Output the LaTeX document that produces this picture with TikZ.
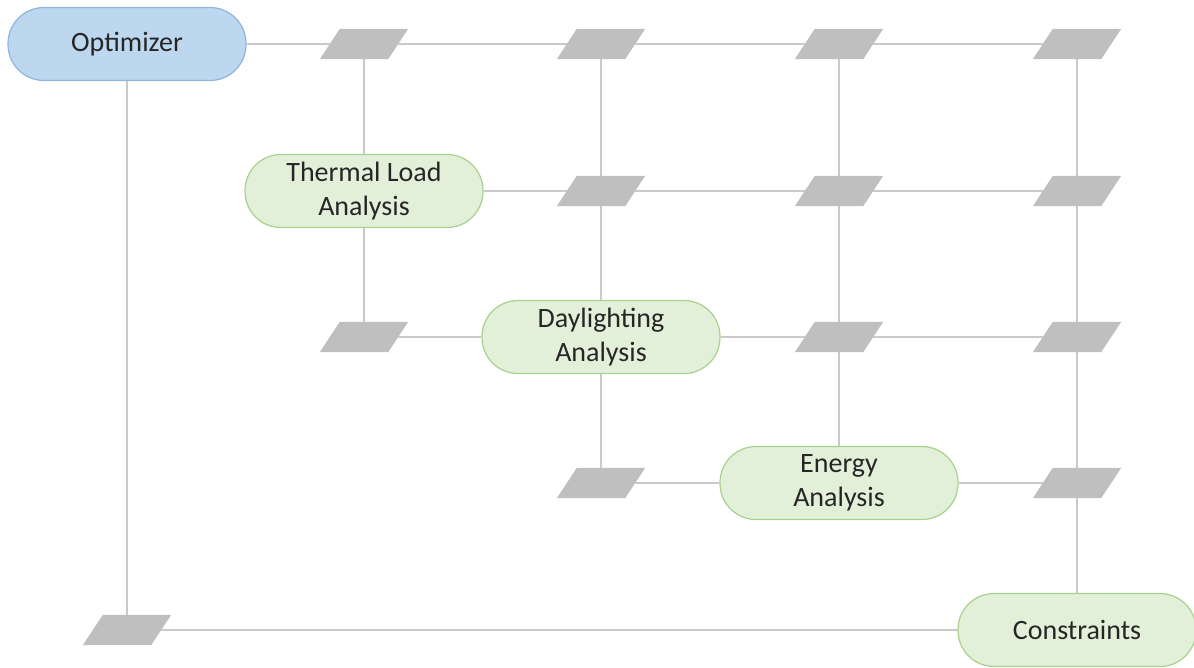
\documentclass[tikz,border=0pt]{standalone}
\usepackage{fontspec}
\setmainfont{Carlito}
\definecolor{wire}{HTML}{C9C9C9}
\definecolor{paraFill}{HTML}{BFBFBF}
\definecolor{blueFill}{HTML}{BDD7EE}
\definecolor{blueLine}{HTML}{8FB4DE}
\definecolor{greenFill}{HTML}{E2F0D9}
\definecolor{greenLine}{HTML}{A9D18E}
\definecolor{ink}{HTML}{262626}
\tikzset{
  stadium/.style={rectangle, rounded corners=36pt, minimum width=238pt,
    minimum height=73pt, line width=1.2pt, align=center, text=ink,
    font=\fontsize{28}{34}\selectfont},
  optbox/.style={stadium, fill=blueFill, draw=blueLine},
  taskbox/.style={stadium, fill=greenFill, draw=greenLine},
  junction/.style={rectangle, minimum width=68pt, minimum height=30pt,
    inner sep=0pt, draw=none},
  wireline/.style={draw=wire, line width=2.2pt}
}
\begin{document}
\begin{tikzpicture}[x=1pt, y=-1pt]
\useasboundingbox (0,0) rectangle (1194,667);

% process boxes
\node[optbox]  (opt) at (127,44)  {Optimizer};
\node[taskbox] (tla) at (364,191) {Thermal Load\\Analysis};
\node[taskbox] (day) at (601,337) {Daylighting\\Analysis};
\node[taskbox] (ene) at (839,483) {Energy\\Analysis};
\node[taskbox] (con) at (1077,630) {Constraints};

% junctions, top row
\node[junction] (t1) at (364,44) {};
\node[junction] (t2) at (601,44) {};
\node[junction] (t3) at (839,44) {};
\node[junction] (t4) at (1077,44) {};
% second row
\node[junction] (r2a) at (601,191) {};
\node[junction] (r2b) at (839,191) {};
\node[junction] (r2c) at (1077,191) {};
% third row
\node[junction] (r3a) at (364,337) {};
\node[junction] (r3b) at (839,337) {};
\node[junction] (r3c) at (1077,337) {};
% fourth row
\node[junction] (r4a) at (601,483) {};
\node[junction] (r4b) at (1077,483) {};
% bottom row
\node[junction] (b1) at (127,630) {};

% slanted junction plates
\foreach \n in {t1,t2,t3,t4,r2a,r2b,r2c,r3a,r3b,r3c,r4a,r4b,b1}
  \fill[paraFill] ([xshift=-10pt]\n.south west) -- ([xshift=-10pt]\n.south east)
    -- ([xshift=10pt]\n.north east) -- ([xshift=10pt]\n.north west) -- cycle;

% horizontal links
\draw[wireline] (opt) -- (t1);
\draw[wireline] (t1) -- (t2);
\draw[wireline] (t2) -- (t3);
\draw[wireline] (t3) -- (t4);
\draw[wireline] (tla) -- (r2a);
\draw[wireline] (r2a) -- (r2b);
\draw[wireline] (r2b) -- (r2c);
\draw[wireline] (r3a) -- (day);
\draw[wireline] (day) -- (r3b);
\draw[wireline] (r3b) -- (r3c);
\draw[wireline] (r4a) -- (ene);
\draw[wireline] (ene) -- (r4b);
\draw[wireline] (b1) -- (con);

% vertical links
\draw[wireline] (opt) -- (b1);
\draw[wireline] (t1) -- (tla);
\draw[wireline] (tla) -- (r3a);
\draw[wireline] (t2) -- (r2a);
\draw[wireline] (r2a) -- (day);
\draw[wireline] (day) -- (r4a);
\draw[wireline] (t3) -- (r2b);
\draw[wireline] (r2b) -- (r3b);
\draw[wireline] (r3b) -- (ene);
\draw[wireline] (t4) -- (r2c);
\draw[wireline] (r2c) -- (r3c);
\draw[wireline] (r3c) -- (r4b);
\draw[wireline] (r4b) -- (con);
\end{tikzpicture}
\end{document}
